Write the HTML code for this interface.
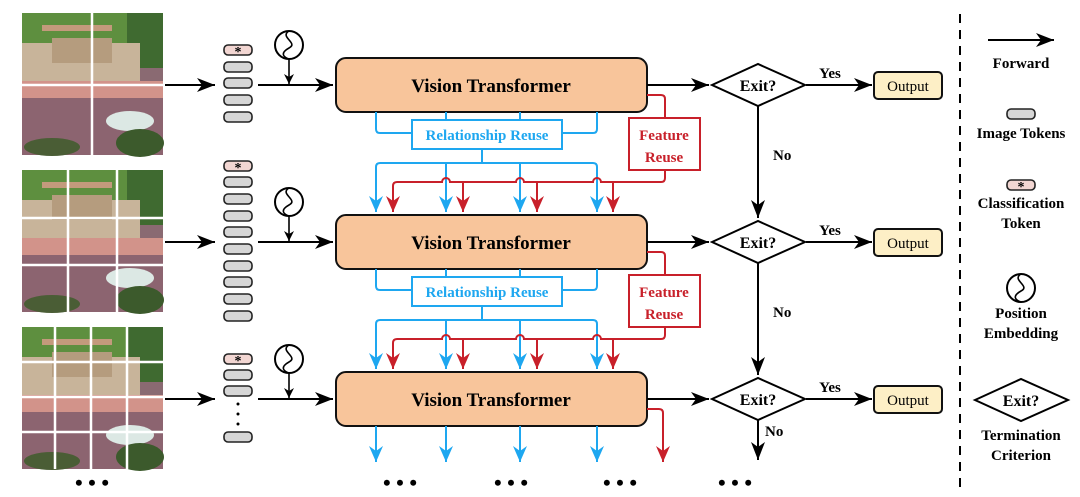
<!DOCTYPE html>
<html><head><meta charset="utf-8"><style>
html,body{margin:0;padding:0;background:#fff;}
svg{display:block;font-family:"Liberation Serif",serif;font-weight:bold;}
</style></head><body>
<svg width="1080" height="497" viewBox="0 0 1080 497" xmlns="http://www.w3.org/2000/svg">
<defs>
<marker id="ak" markerUnits="userSpaceOnUse" markerWidth="20" markerHeight="16" refX="18" refY="7" orient="auto"><path d="M0,0 L18,7 L0,14 L5,7 z" fill="#000"/></marker>
<marker id="ab" markerUnits="userSpaceOnUse" markerWidth="20" markerHeight="16" refX="16" refY="7" orient="auto"><path d="M0,0 L16,7 L0,14 L5,7 z" fill="#1ea7f0"/></marker>
<marker id="ar" markerUnits="userSpaceOnUse" markerWidth="20" markerHeight="16" refX="16" refY="7" orient="auto"><path d="M0,0 L16,7 L0,14 L5,7 z" fill="#c8202a"/></marker>
<marker id="as" markerUnits="userSpaceOnUse" markerWidth="14" markerHeight="12" refX="10" refY="5" orient="auto"><path d="M0,0 L10,5 L0,10 L3,5 z" fill="#000"/></marker>
<g id="img">
<rect x="0" y="0" width="141" height="142" fill="#8a6a72"/>
<rect x="0" y="0" width="141" height="38" fill="#5e8f3f"/>
<rect x="20" y="12" width="70" height="6" fill="#c39a7c"/>
<rect x="105" y="0" width="36" height="55" fill="#3f6a30"/>
<rect x="0" y="30" width="118" height="40" fill="#c8b49a"/>
<rect x="30" y="25" width="60" height="25" fill="#b59c7e"/>
<rect x="0" y="68" width="141" height="17" fill="#d2938a"/>
<rect x="0" y="85" width="141" height="57" fill="#8c6470"/>
<ellipse cx="108" cy="108" rx="24" ry="10" fill="#dce8e4"/>
<ellipse cx="118" cy="130" rx="24" ry="14" fill="#3c5a2c"/>
<ellipse cx="30" cy="134" rx="28" ry="9" fill="#4a5d35"/>
</g>
<g id="pe"><circle cx="0" cy="0" r="14" fill="#fff" stroke="#000" stroke-width="2"/><path d="M0,-14 C-10,-8 10,-2 0,3 C-9,8 -6,12 0,14" fill="none" stroke="#000" stroke-width="1.6"/></g>
<g id="tok"><rect x="0" y="0" width="28" height="10" rx="4" fill="#d6d6d6" stroke="#222" stroke-width="1.6"/></g>
<g id="cls"><rect x="0" y="0" width="28" height="10" rx="4" fill="#f2d6d2" stroke="#222" stroke-width="1.6"/><text x="14" y="11" font-size="14" text-anchor="middle" fill="#000">*</text></g>
</defs>

<use href="#img" x="22" y="13"/>
<path d="M92,13V155M22,85H163" stroke="#fff" stroke-width="2.5"/>
<use href="#img" x="22" y="170"/>
<path d="M68,170V312M117,170V312M22,218H163M22,265H163" stroke="#fff" stroke-width="2.5"/>
<use href="#img" x="22" y="327"/>
<path d="M55,327V469M91,327V469M127,327V469M22,362H163M22,397H163M22,432H163" stroke="#fff" stroke-width="2.5"/>
<text x="92" y="490" font-size="22" text-anchor="middle">• • •</text>

<use href="#cls" x="224" y="45"/>
<use href="#tok" x="224" y="62"/><use href="#tok" x="224" y="78"/><use href="#tok" x="224" y="95"/><use href="#tok" x="224" y="112"/>
<use href="#cls" x="224" y="161"/>
<use href="#tok" x="224" y="177"/><use href="#tok" x="224" y="194"/><use href="#tok" x="224" y="211"/><use href="#tok" x="224" y="227"/><use href="#tok" x="224" y="244"/><use href="#tok" x="224" y="261"/><use href="#tok" x="224" y="277"/><use href="#tok" x="224" y="294"/><use href="#tok" x="224" y="311"/>
<use href="#cls" x="224" y="354"/>
<use href="#tok" x="224" y="370"/><use href="#tok" x="224" y="386"/>
<circle cx="238" cy="404" r="1.5"/><circle cx="238" cy="414" r="1.5"/><circle cx="238" cy="424" r="1.5"/>
<use href="#tok" x="224" y="432"/>

<g id="row">
<path d="M165,85H215" stroke="#000" stroke-width="2" marker-end="url(#ak)"/>
<path d="M258,85H333" stroke="#000" stroke-width="2" marker-end="url(#ak)"/>
<path d="M289,59V84" stroke="#000" stroke-width="1.6" marker-end="url(#as)"/>
<use href="#pe" x="289" y="45"/>
<rect x="336" y="58" width="311" height="54" rx="10" fill="#f8c59b" stroke="#111" stroke-width="2"/>
<text x="491" y="92" font-size="19" text-anchor="middle">Vision Transformer</text>
<path d="M647,85H709" stroke="#000" stroke-width="2" marker-end="url(#ak)"/>
<polygon points="712,85 758,64 805,85 758,106" fill="#fff" stroke="#000" stroke-width="2"/>
<text x="758" y="91" font-size="16" text-anchor="middle">Exit?</text>
<path d="M806,85H872" stroke="#000" stroke-width="2" marker-end="url(#ak)"/>
<text x="830" y="78" font-size="15" text-anchor="middle">Yes</text>
<rect x="874" y="72" width="68" height="27" rx="4" fill="#fdefc6" stroke="#111" stroke-width="2"/>
<text x="908" y="91" font-size="15" font-weight="normal" text-anchor="middle">Output</text>
</g>
<use href="#row" y="157"/>
<use href="#row" y="314"/>

<g id="reuse">
<path d="M376,112V129q0,4 4,4H412M597,112V129q0,4 -4,4H562M446,112V120M520,112V120" fill="none" stroke="#1ea7f0" stroke-width="2"/>
<rect x="412" y="120" width="150" height="29" fill="#fff" stroke="#1ea7f0" stroke-width="2"/>
<text x="487" y="140" font-size="15" text-anchor="middle" fill="#1ea7f0">Relationship Reuse</text>
<path d="M482,149V163" stroke="#1ea7f0" stroke-width="2"/>
<path d="M376,212V167q0,-4 4,-4H593q4,0 4,4V212" fill="none" stroke="#1ea7f0" stroke-width="2" marker-end="url(#ab)"/>
<path d="M376,170V212" stroke="#1ea7f0" stroke-width="2" marker-end="url(#ab)"/>
<path d="M446,163V212" stroke="#1ea7f0" stroke-width="2" marker-end="url(#ab)"/>
<path d="M520,163V212" stroke="#1ea7f0" stroke-width="2" marker-end="url(#ab)"/>
<path d="M647,95H661q4,0 4,4V118" fill="none" stroke="#c8202a" stroke-width="2"/>
<rect x="629" y="118" width="71" height="52" fill="#fff" stroke="#c8202a" stroke-width="2"/>
<text x="664" y="140" font-size="15" text-anchor="middle" fill="#c8202a">Feature</text>
<text x="664" y="162" font-size="15" text-anchor="middle" fill="#c8202a">Reuse</text>
<path d="M665,170V178q0,4 -4,4H601a4,4 0 0 0 -8,0H524a4,4 0 0 0 -8,0H450a4,4 0 0 0 -8,0H397q-4,0 -4,4V212" fill="none" stroke="#c8202a" stroke-width="2" marker-end="url(#ar)"/>
<path d="M463,182V212" stroke="#c8202a" stroke-width="2" marker-end="url(#ar)"/>
<path d="M537,182V212" stroke="#c8202a" stroke-width="2" marker-end="url(#ar)"/>
<path d="M613,182V212" stroke="#c8202a" stroke-width="2" marker-end="url(#ar)"/>
</g>
<use href="#reuse" y="157"/>

<path d="M758,106V218" stroke="#000" stroke-width="2" marker-end="url(#ak)"/>
<text x="773" y="160" font-size="15">No</text>
<path d="M758,263V375" stroke="#000" stroke-width="2" marker-end="url(#ak)"/>
<text x="773" y="317" font-size="15">No</text>
<path d="M758,420V460" stroke="#000" stroke-width="2" marker-end="url(#ak)"/>
<text x="765" y="436" font-size="15">No</text>

<path d="M376,426V462" stroke="#1ea7f0" stroke-width="2" marker-end="url(#ab)"/>
<path d="M446,426V462" stroke="#1ea7f0" stroke-width="2" marker-end="url(#ab)"/>
<path d="M520,426V462" stroke="#1ea7f0" stroke-width="2" marker-end="url(#ab)"/>
<path d="M597,426V462" stroke="#1ea7f0" stroke-width="2" marker-end="url(#ab)"/>
<path d="M647,409H659q4,0 4,4V462" fill="none" stroke="#c8202a" stroke-width="2" marker-end="url(#ar)"/>
<text x="400" y="490" font-size="22" text-anchor="middle">• • •</text>
<text x="511" y="490" font-size="22" text-anchor="middle">• • •</text>
<text x="620" y="490" font-size="22" text-anchor="middle">• • •</text>
<text x="735" y="490" font-size="22" text-anchor="middle">• • •</text>

<path d="M960,14V492" stroke="#000" stroke-width="2" stroke-dasharray="9,7"/>
<path d="M988,40H1054" stroke="#000" stroke-width="2" marker-end="url(#ak)"/>
<text x="1021" y="68" font-size="15" text-anchor="middle">Forward</text>
<use href="#tok" x="1007" y="109"/>
<text x="1021" y="138" font-size="15" text-anchor="middle">Image Tokens</text>
<use href="#cls" x="1007" y="180"/>
<text x="1021" y="208" font-size="15" text-anchor="middle">Classification</text>
<text x="1021" y="228" font-size="15" text-anchor="middle">Token</text>
<use href="#pe" x="1021" y="288"/>
<text x="1021" y="318" font-size="15" text-anchor="middle">Position</text>
<text x="1021" y="338" font-size="15" text-anchor="middle">Embedding</text>
<polygon points="975,400 1021,379 1068,400 1021,421" fill="#fff" stroke="#000" stroke-width="2"/>
<text x="1021" y="406" font-size="16" text-anchor="middle">Exit?</text>
<text x="1021" y="440" font-size="15" text-anchor="middle">Termination</text>
<text x="1021" y="460" font-size="15" text-anchor="middle">Criterion</text>
</svg>
</body></html>
